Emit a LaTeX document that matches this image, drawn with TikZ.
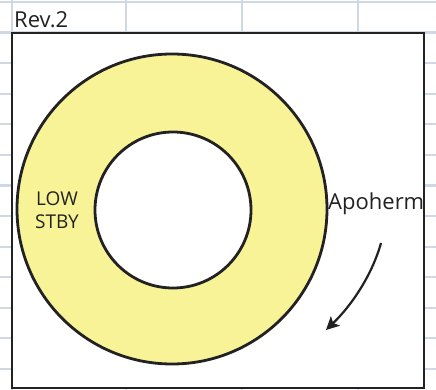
\documentclass[tikz,border=0pt]{standalone}
\usepackage{fontspec}
\setmainfont{Open Sans}
\usetikzlibrary{arrows.meta}
\definecolor{gridc}{RGB}{208,215,229}
\definecolor{ringc}{RGB}{249,243,152}
\definecolor{inkc}{RGB}{34,34,34}
\tikzset{
  gridline/.style={draw=gridc,line width=2.2pt},
  ring/.style={circle,draw=inkc,line width=2.8pt,inner sep=0pt},
  lbl/.style={inner sep=0pt,text=inkc},
}
\begin{document}
\begin{tikzpicture}[x=1pt,y=-1pt]
\useasboundingbox (0,0) rectangle (436,390);
% spreadsheet grid
\foreach \k in {0,...,12} \draw[gridline] (0,{2+30.58*\k}) -- (436,{2+30.58*\k});
\foreach \xx in {12,126,242,358} \draw[gridline] (\xx,0) -- (\xx,390);
% frame
\draw[draw=inkc,fill=white,line width=2.8pt] (12,33) rectangle (424,388);
% ring
\node[ring,fill=ringc,minimum size=310pt] (outer) at (172,209) {};
\node[ring,fill=white,minimum size=156pt] (inner) at (173,210) {};
% texts
\node[lbl,anchor=base west,font=\fontsize{22}{24}\selectfont] (rev) at (14,28) {Rev.2};
\node[lbl,align=center,font=\fontsize{19}{23}\selectfont] (low) at (57,210) {LOW\\STBY};
\node[lbl,anchor=base west,font=\fontsize{22}{24}\selectfont] (apo) at (328,209) {Apoherm};
% arrow
\coordinate (a1) at (381,243);
\coordinate (a2) at (326,330);
\draw[inkc,line width=2.2pt,-{Stealth[length=13pt,width=13pt,inset=3pt]}] (a1) .. controls (372,275) and (352,305) .. (a2);
\end{tikzpicture}
\end{document}
